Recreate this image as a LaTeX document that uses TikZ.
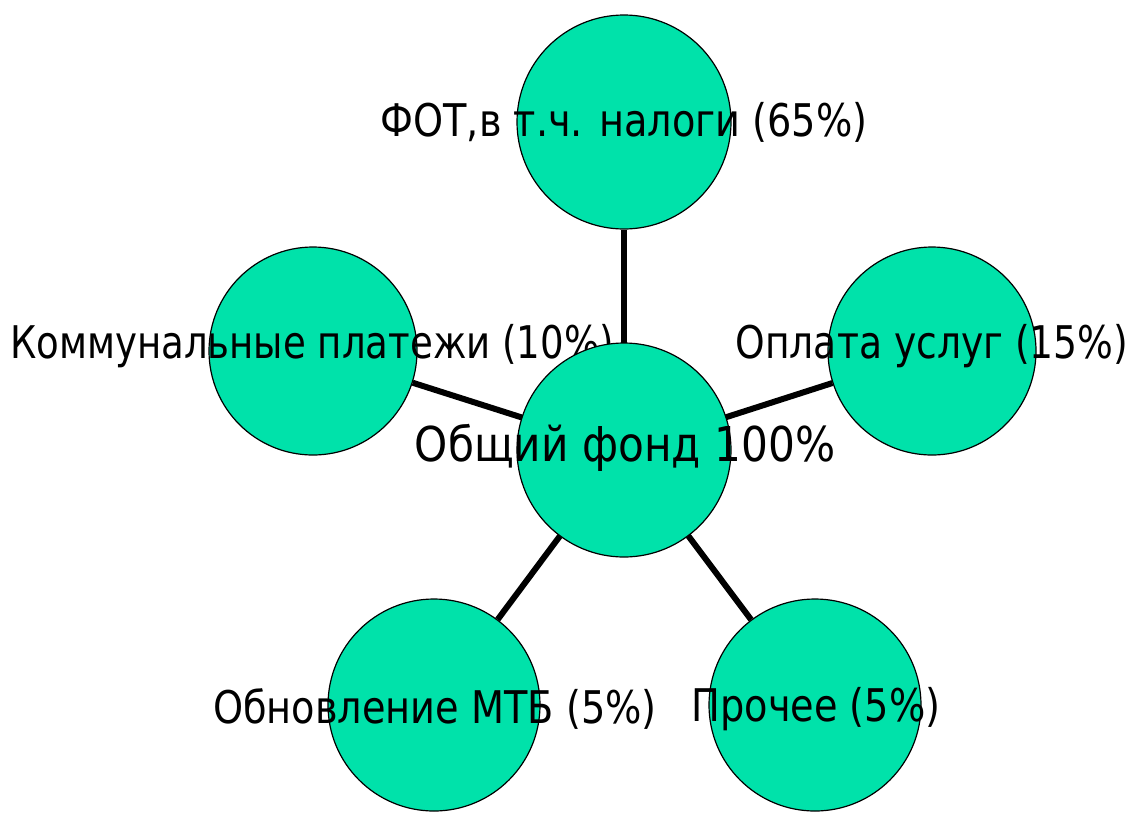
\documentclass[tikz,border=0pt]{standalone}
\usepackage{fontspec}
\setmainfont[FakeStretch=0.85]{DejaVu Sans}
\newfontfamily\centrefont[FakeStretch=0.88]{DejaVu Sans}
\definecolor{bub}{RGB}{0,226,170}
\begin{document}
\begin{tikzpicture}[x=1pt,y=-1pt,
  bubble/.style={circle,draw=black,line width=1.2pt,fill=bub,inner sep=0pt},
  link/.style={line width=6pt,black},
  lbl/.style={inner sep=0pt,anchor=center,font=\fontsize{45}{54}\selectfont},
  mainlbl/.style={inner sep=0pt,anchor=center,font=\centrefont\fontsize{48}{58}\selectfont}]
\useasboundingbox (0,0) rectangle (1132,812);
% outer circles
\node[bubble,minimum size=214pt] (T) at (624,122) {};
\node[bubble,minimum size=208pt] (L) at (313,351) {};
\node[bubble,minimum size=208pt] (R) at (932,351) {};
\node[bubble,minimum size=212pt] (BL) at (434,705) {};
\node[bubble,minimum size=212pt] (BR) at (815,705) {};
% centre circle position (for links)
\node[circle,minimum size=214pt,inner sep=0pt] (C0) at (624,450) {};
% links
\draw[link] (C0) -- (T);
\draw[link] (C0) -- (L);
\draw[link] (C0) -- (R);
\draw[link] (C0) -- (BL);
\draw[link] (C0) -- (BR);
% outer labels
\node[lbl] (lT) at (624,122) {ФОТ,в т.ч. налоги (65\%)};
\node[lbl] (lL) at (312,346) {\scalebox{0.97}[1]{Коммунальные платежи (10\%)}};
\node[lbl] (lR) at (932,346) {\scalebox{0.985}[1]{Оплата услуг (15\%)}};
\node[lbl] (lBL) at (435,709) {Обновление МТБ (5\%)};
\node[lbl] (lBR) at (816,709) {Прочее (5\%)};
% centre
\node[bubble,minimum size=214pt] (C) at (624,450) {};
\node[mainlbl] (lC) at (625,448) {Общий фонд 100\%};
\end{tikzpicture}
\end{document}
